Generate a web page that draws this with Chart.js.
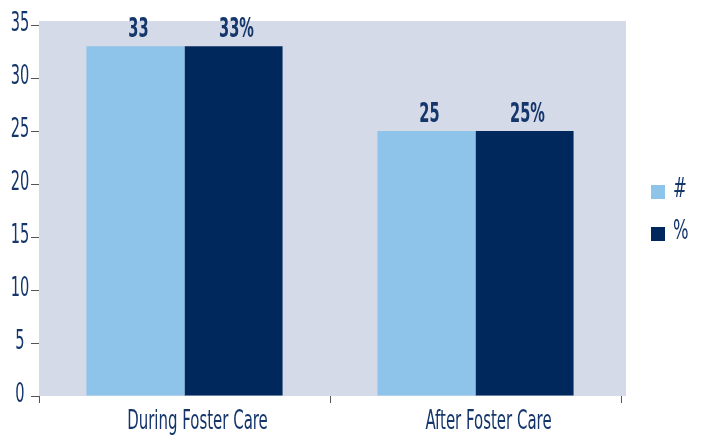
<!DOCTYPE html>
<html>
<head>
<meta charset="utf-8">
<script src="https://cdn.jsdelivr.net/npm/chart.js@4/dist/chart.umd.min.js"></script>
<style>
  html, body { margin: 0; padding: 0; background: #ffffff; }
  #wrap { width: 703px; height: 435px; }
</style>
</head>
<body>
<div id="wrap"><canvas id="chart" width="703" height="435"></canvas></div>
<script>
const categories = ["During Foster Care", "After Foster Care"];
const countValues = [33, 25];
const percentValues = [33, 25];
const countLabels = ["33", "25"];
const percentLabels = ["33%", "25%"];
const yTicks = [0, 5, 10, 15, 20, 25, 30, 35];

const FONT = "'DejaVu Sans Condensed', 'Liberation Sans Narrow', sans-serif";
const TEXT = "#14366b";

// the original type is a tall, narrow face: squeeze text around its anchor
function narrowText(ctx, str, x, y, font, align, squeeze) {
  ctx.save();
  ctx.font = font;
  ctx.textAlign = align;
  ctx.translate(x, y);
  ctx.scale(squeeze, 1);
  ctx.fillText(str, 0, 0);
  ctx.restore();
}

/* plot background, a little larger than the chart area */
const plotBg = {
  id: "plotBg",
  beforeDraw(chart) {
    const { ctx, chartArea: a } = chart;
    ctx.save();
    ctx.fillStyle = "#d5dae8";
    ctx.fillRect(a.left, a.top - 4, a.right - a.left + 5, a.bottom - a.top + 4);
    ctx.restore();
  },
};

/* axis labels, drawn at the scales' own positions */
const axisLabels = {
  id: "axisLabels",
  afterDraw(chart) {
    const { ctx, scales } = chart;
    ctx.save();
    ctx.fillStyle = TEXT;
    ctx.textBaseline = "middle";
    scales.y.ticks.forEach(t => {
      narrowText(ctx, String(t.value), 20, scales.y.getPixelForValue(t.value) - 1,
        "27px " + FONT, "center", 0.6);
    });
    ctx.textBaseline = "alphabetic";
    chart.data.labels.forEach((lbl, i) => {
      narrowText(ctx, lbl, scales.x.getPixelForValue(i) + 13, 429, "26px " + FONT, "center", 0.64);
    });
    ctx.restore();
  },
};

/* value labels above bars */
const valueLabels = {
  id: "valueLabels",
  afterDatasetsDraw(chart) {
    const { ctx } = chart;
    ctx.save();
    ctx.fillStyle = TEXT;
    ctx.textBaseline = "alphabetic";
    chart.data.datasets.forEach((ds, i) => {
      chart.getDatasetMeta(i).data.forEach((bar, j) => {
        narrowText(ctx, ds.valueText[j], bar.x + 3, bar.y - 9, "bold 27px " + FONT, "center", 0.6);
      });
    });
    ctx.restore();
  },
};

/* legend on the right */
const sideLegend = {
  id: "sideLegend",
  afterDraw(chart) {
    const { ctx } = chart;
    ctx.save();
    ctx.textBaseline = "middle";
    chart.data.datasets.forEach((ds, i) => {
      const y = 192 + i * 42;
      ctx.fillStyle = ds.backgroundColor;
      ctx.fillRect(651, y - 7, 14, 14);
      ctx.fillStyle = TEXT;
      narrowText(ctx, ds.label, 673, y - 2, (i === 0 ? "italic " : "") + "26px " + FONT, "left", 0.7);
    });
    ctx.restore();
  },
};

new Chart(document.getElementById("chart"), {
  type: "bar",
  data: {
    labels: categories,
    datasets: [
      { label: "#", data: countValues, valueText: countLabels, backgroundColor: "#8ec3ea" },
      { label: "%", data: percentValues, valueText: percentLabels, backgroundColor: "#00285c" },
    ],
  },
  options: {
    responsive: false,
    animation: false,
    devicePixelRatio: 1,
    layout: { padding: { top: 25, right: 82, bottom: 0, left: 0 } },
    datasets: { bar: { categoryPercentage: 0.674, barPercentage: 1.0, borderWidth: 0 } },
    plugins: { legend: { display: false }, tooltip: { enabled: false } },
    scales: {
      x: {
        afterFit(s) { s.height = 39; },
        border: { display: false },
        grid: { drawOnChartArea: false, drawTicks: true, tickLength: 7, color: "#555555", offset: true },
        ticks: { display: false },
      },
      y: {
        min: 0,
        max: 35,
        afterFit(s) { s.width = 39; },
        afterBuildTicks(s) { s.ticks = yTicks.map(v => ({ value: v })); },
        border: { display: false },
        grid: { drawOnChartArea: false, drawTicks: true, tickLength: 8, color: "#555555" },
        ticks: { display: false },
      },
    },
  },
  plugins: [plotBg, axisLabels, valueLabels, sideLegend],
});
</script>
</body>
</html>
